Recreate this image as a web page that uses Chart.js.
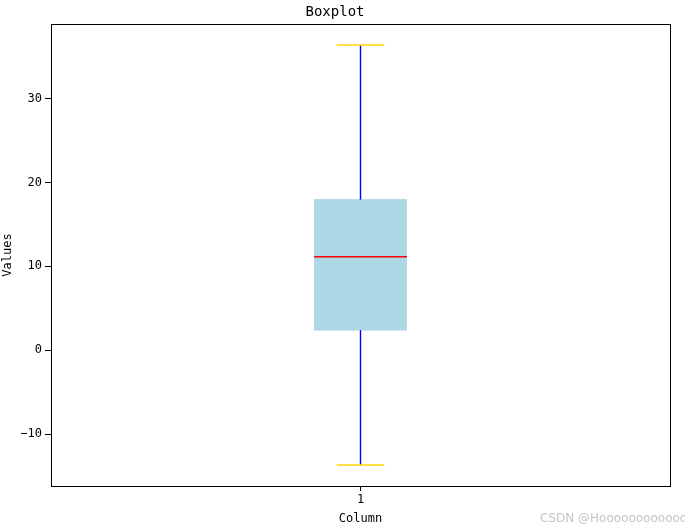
<!DOCTYPE html>
<html>
<head>
<meta charset="utf-8">
<script src="https://cdn.jsdelivr.net/npm/chart.js@4/dist/chart.umd.min.js"></script>
<style>
html,body{margin:0;padding:0;background:#fff;}
canvas{display:block;}
</style>
</head>
<body>
<canvas id="c" width="685" height="532"></canvas>
<script>
// ---- data ----
const categories = ['1'];
const positions = [1];
const whiskerLow = [-13.68];
const q1 = [2.4];
const median = [11.15];
const q3 = [17.95];
const whiskerHigh = [36.38];
const yTicks = [-10, 0, 10, 20, 30];

// ---- style constants ----
const BOX_W = 0.15, CAP_W = 0.077;
const FONT = "'DejaVu Sans Mono', monospace";

const datasets = [];
positions.forEach((p, i) => {
  const l = p - BOX_W / 2, r = p + BOX_W / 2;
  const cl = p - CAP_W / 2, cr = p + CAP_W / 2;
  datasets.push({data: [{x: l, y: median[i]}, {x: r, y: median[i]}], borderColor: '#ff0000', borderWidth: 1.4, order: 0});
  datasets.push({data: [{x: cl, y: whiskerHigh[i]}, {x: cr, y: whiskerHigh[i]}], borderColor: '#ffd700', borderWidth: 1.4, order: 1});
  datasets.push({data: [{x: cl, y: whiskerLow[i]}, {x: cr, y: whiskerLow[i]}], borderColor: '#ffd700', borderWidth: 1.4, order: 1});
  datasets.push({data: [{x: p, y: q3[i]}, {x: p, y: whiskerHigh[i]}], borderColor: '#0000ff', borderWidth: 1.4, order: 2});
  datasets.push({data: [{x: p, y: whiskerLow[i]}, {x: p, y: q1[i]}], borderColor: '#0000ff', borderWidth: 1.4, order: 2});
  const topIdx = datasets.length;
  datasets.push({data: [{x: l, y: q3[i]}, {x: r, y: q3[i]}], borderColor: '#add8e6', borderWidth: 1, backgroundColor: '#add8e6', fill: topIdx + 1, order: 3});
  datasets.push({data: [{x: l, y: q1[i]}, {x: r, y: q1[i]}], borderColor: '#add8e6', borderWidth: 1, order: 3});
});

const allVals = whiskerLow.concat(whiskerHigh);
const vmin = Math.min(...allVals), vmax = Math.max(...allVals);
const margin = (vmax - vmin) * 0.05;

const frame = {
  id: 'frame',
  afterDatasetsDraw(chart) {
    const a = chart.chartArea, ctx = chart.ctx;
    ctx.save();
    ctx.strokeStyle = '#000';
    ctx.lineWidth = 1;
    ctx.strokeRect(Math.round(a.left) + 0.5, Math.round(a.top) + 0.5, Math.round(a.right - a.left), Math.round(a.bottom - a.top));
    ctx.fillStyle = 'rgba(190,190,190,0.9)';
    ctx.font = "12px 'DejaVu Sans'";
    ctx.textBaseline = 'middle';
    ctx.fillText('CSDN @Hoooooooooooon', 540, 519);
    ctx.restore();
  }
};

new Chart(document.getElementById('c'), {
  type: 'line',
  data: {datasets},
  plugins: [frame],
  options: {
    responsive: false,
    animation: false,
    layout: {padding: {right: 15, left: 0, top: 0, bottom: 0}},
    elements: {point: {radius: 0, hoverRadius: 0}, line: {tension: 0}},
    plugins: {
      legend: {display: false},
      tooltip: {enabled: false},
      filler: {propagate: false},
      title: {display: true, text: 'Boxplot', color: '#000', font: {family: FONT, size: 14, weight: 'normal'}, padding: {top: 4, bottom: 3.2}}
    },
    scales: {
      x: {
        type: 'linear', min: 0.5, max: 1.5,
        afterBuildTicks(s) { s.ticks = positions.map(v => ({value: v})); },
        afterFit(s) { s.height = 46; },
        ticks: {color: '#000', font: {family: FONT, size: 12}, padding: 2, callback: (v) => { const k = positions.indexOf(v); return k >= 0 ? categories[k] : ''; }, maxRotation: 0},
        grid: {drawOnChartArea: false, drawTicks: true, tickLength: 5, tickColor: '#000'},
        border: {display: true, color: '#000'},
        title: {display: true, text: 'Column', color: '#000', font: {family: FONT, size: 12}, padding: {top: 0, bottom: 6}}
      },
      y: {
        type: 'linear', min: vmin - margin, max: vmax + margin,
        afterBuildTicks(s) { s.ticks = yTicks.map(v => ({value: v})); },
        afterFit(s) { s.width = 51; },
        ticks: {color: '#000', font: {family: FONT, size: 12}, padding: 3, callback: (v) => v < 0 ? '\u2212' + Math.abs(v) : String(v)},
        grid: {drawOnChartArea: false, drawTicks: true, tickLength: 6, tickColor: '#000'},
        border: {display: true, color: '#000'},
        title: {display: true, text: 'Values', color: '#000', font: {family: FONT, size: 12}, padding: {top: 1, bottom: 0}}
      }
    }
  }
});
</script>
</body>
</html>
